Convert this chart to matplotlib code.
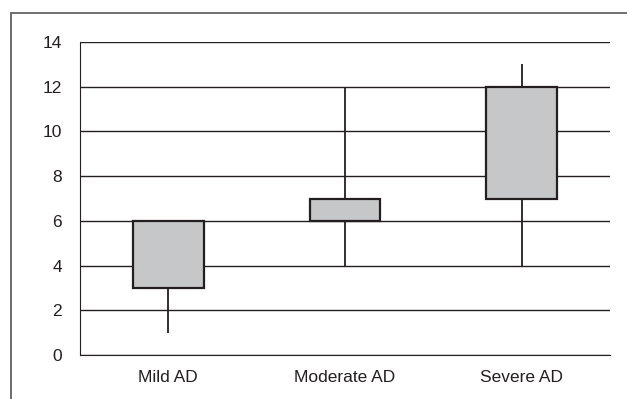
import matplotlib.pyplot as plt
from matplotlib.patches import Rectangle

categories = ['Mild AD', 'Moderate AD', 'Severe AD']
low = [1, 4, 4]
q1 = [3, 6, 7]
q3 = [6, 7, 12]
high = [6, 12, 13]

plt.rcParams['font.family'] = ['Liberation Sans', 'DejaVu Sans']

fig = plt.figure(figsize=(6.27, 3.99), dpi=100)
ax = fig.add_axes([0.1276, 0.110, 0.8454, 0.7847])

# outer frame (left, top, right)
fig.patches.append(Rectangle((11 / 627, -0.1), 2, 1.1 - 13 / 399, transform=fig.transFigure,
                             fill=False, edgecolor='#555555', linewidth=1.2))

x = range(len(categories))
ax.set_axisbelow(True)
ax.yaxis.grid(True, color='#231f20', linewidth=1.0)
ax.vlines(x, low, q1, color='#231f20', linewidth=1.3, zorder=2)
ax.vlines(x, q3, high, color='#231f20', linewidth=1.3, zorder=2)
heights = [b - a for a, b in zip(q1, q3)]
ax.bar(x, heights, bottom=q1, width=0.4, color='#c6c7c9', edgecolor='#231f20',
       linewidth=1.6, zorder=3)

ax.set_xlim(-0.5, 2.5)
ax.set_ylim(0, 14)
ax.set_yticks(range(0, 15, 2))
ax.set_xticks(list(x))
ax.set_xticklabels(categories)
ax.tick_params(length=0, labelsize=12.5, colors='#231f20')
ax.tick_params(axis='y', pad=13)
ax.tick_params(axis='x', pad=11)
for s in ['top', 'right']:
    ax.spines[s].set_visible(False)
ax.spines['left'].set_color('#231f20')
ax.spines['bottom'].set_color('#231f20')

fig.savefig('out.png', dpi=100)
